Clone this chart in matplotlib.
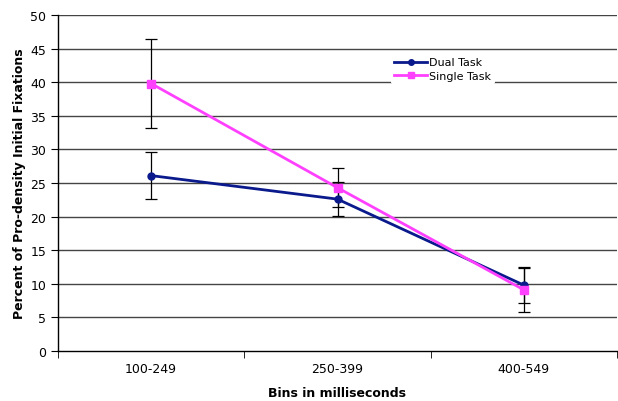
import matplotlib
matplotlib.use("Agg")
import matplotlib.pyplot as plt
import numpy as np

categories = ["100-249", "250-399", "400-549"]
dual = [26.1, 22.6, 9.8]
dual_err = [3.5, 2.5, 2.7]
single = [39.8, 24.3, 9.1]
single_err = [6.6, 2.9, 3.3]
yticks = list(range(0, 51, 5))

fig = plt.figure(figsize=(6.18, 4.02), dpi=100)
ax = fig.add_axes([58/618, 1-352/402, (617-58)/618, (352-16)/402])

x = np.arange(len(categories))
for y in yticks[1:]:
    ax.axhline(y, color="#444444", lw=1.0, zorder=0)

ax.errorbar(x, dual, yerr=dual_err, fmt="none", ecolor="black", elinewidth=0.9, capsize=4, capthick=0.9, zorder=2)
ax.errorbar(x, single, yerr=single_err, fmt="none", ecolor="black", elinewidth=0.9, capsize=4, capthick=0.9, zorder=2)
ax.plot(x, dual, color="#0a1a8c", lw=2, marker="o", ms=5, label="Dual Task", zorder=3)
ax.plot(x, single, color="#ff40ff", lw=2, marker="s", ms=5.5, label="Single Task", zorder=4)

ax.set_xlim(-0.5, 2.5)
ax.set_ylim(0, 50)
ax.set_yticks(yticks)
ax.set_xticks(x)
ax.set_xticklabels(categories, fontsize=9)
ax.set_xticks([-0.5, 0.5, 1.5, 2.5], minor=True)
ax.tick_params(axis="x", which="major", length=0, pad=8)
ax.tick_params(axis="x", which="minor", length=5, direction="out")
ax.tick_params(axis="y", length=5, direction="out", labelsize=9)
for s in ["top", "right"]:
    ax.spines[s].set_visible(False)
ax.spines["left"].set_linewidth(1.0)
ax.spines["bottom"].set_linewidth(1.0)

ax.set_xlabel("Bins in milliseconds", fontsize=9, fontweight="bold", labelpad=8)
ax.set_ylabel("Percent of Pro-density Initial Fixations", fontsize=9, fontweight="bold", labelpad=3)

leg = ax.legend(loc="upper left", bbox_to_anchor=(0.585, 0.9), frameon=True, fontsize=8,
                handlelength=3, handletextpad=0.2, borderpad=0.3, labelspacing=0.3, markerscale=0.8)
leg.get_frame().set_edgecolor("none")
leg.get_frame().set_facecolor("white")
leg.get_frame().set_alpha(1)

fig.savefig("out.png", dpi=100)
